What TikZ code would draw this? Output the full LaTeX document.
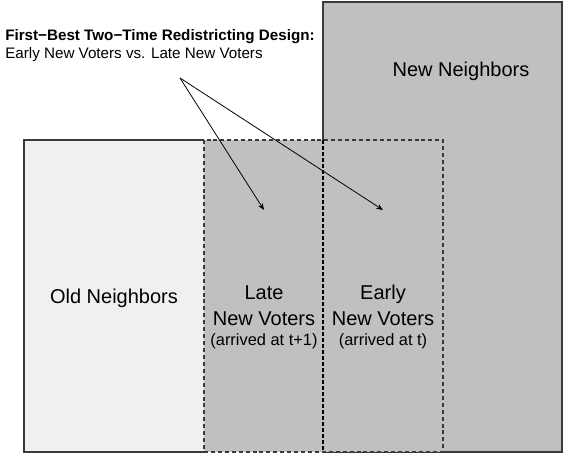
\documentclass[tikz,border=0pt]{standalone}
\usepackage{fontspec}
\setmainfont{Liberation Sans}
\usepackage{xcolor}
\usetikzlibrary{arrows.meta,positioning}
\definecolor{oldfill}{HTML}{F0F0F0}
\definecolor{newfill}{HTML}{C0C0C0}
\definecolor{edge}{HTML}{3A3A3A}
\tikzset{
  region/.style={draw=edge,line width=0.8pt},
  dashedge/.style={draw=edge,line width=0.9pt,dash pattern=on 3pt off 2.2pt},
  label/.style={font=\fontsize{15}{18}\selectfont,align=center,inner sep=0pt},
  pointer/.style={-{Stealth[length=5pt,width=4pt]},line width=0.6pt}
}

\begin{document}
\begin{tikzpicture}[x=0.75pt,y=-0.75pt]
        \useasboundingbox (0,0) rectangle (565,453);
        % set the region edges as variables
        \def\xold{24}
        \def\xlate{204}
        \def\xearly{323}
        \def\xend{443}
        \def\xnew{562}
        \def\ynew{2}
        \def\ytop{140}
        \def\ybot{452}
        % old and new neighbors
        \fill[newfill] (\xearly,\ynew) rectangle (\xnew,\ybot);
        \draw[region] (\xearly,\ynew) rectangle (\xnew,\ybot);
        \fill[oldfill] (\xold,\ytop) rectangle (\xlate,\ybot);
        \draw[region] (\xlate,\ytop) -- (\xold,\ytop) -- (\xold,\ybot) -- (\xlate,\ybot);
        % new voters, dashed
        \fill[newfill] (\xlate,\ytop) rectangle (\xend,\ybot);
        \draw[dashedge] (\xlate,\ytop) rectangle (\xend,\ybot);
        \draw[line width=0.8pt,dash pattern=on 3pt off 1.5pt] (\xearly,\ytop) -- (\xearly,\ybot);
        % labels (base = last line)
        \node[label,anchor=base] (newnb) at (461,77) {New Neighbors};
        \node[label,anchor=base] (oldnb) at (114,303) {Old Neighbors};
        \node[label,anchor=base] (late) at (264,345)
            {Late\\[1.5pt]New Voters\\[-3.5pt]{\fontsize{12.3}{14}\selectfont (arrived at t+1)}};
        \node[label,anchor=base] (early) at (383,345)
            {Early\\[1.5pt]New Voters\\[-3.5pt]{\fontsize{12.3}{14}\selectfont (arrived at t)}};
        % title
        \node[anchor=base west,inner sep=0pt,font=\fontsize{11.4}{13}\selectfont\bfseries] (title) at (5,41)
            {First−Best Two−Time Redistricting Design:};
        \node[anchor=base west,inner sep=0pt,font=\fontsize{11.4}{13}\selectfont] (subtitle) at (5,59)
            {Early New Voters vs. Late New Voters};
        % arrows
        \coordinate (src) at (180,78);
        \coordinate (latetip) at (264,210);
        \coordinate (earlytip) at (383,210);
        \draw[pointer] (src) -- (latetip);
        \draw[pointer] (src) -- (earlytip);
\end{tikzpicture}
\end{document}
